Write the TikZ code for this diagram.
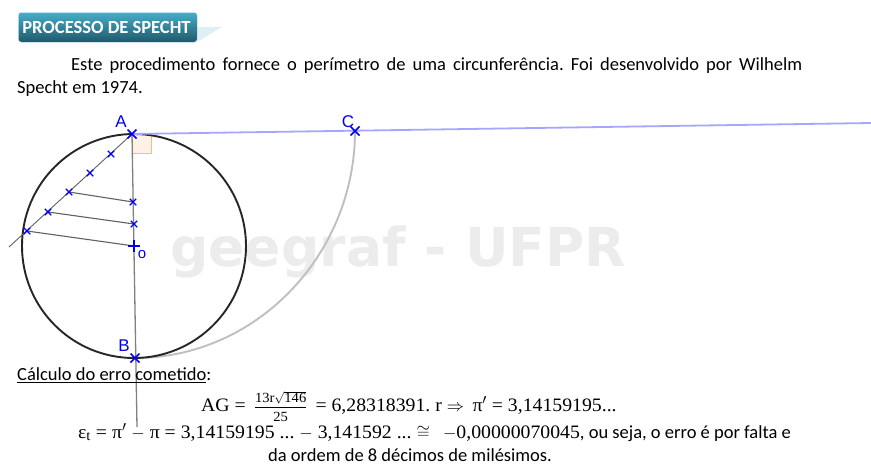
\documentclass[tikz,border=0pt]{standalone}
\usepackage{fontspec}
\usepackage{amsmath}
\setmainfont{Carlito}
\newfontfamily\mathserif[FakeStretch=1.04]{Liberation Serif}
\newfontfamily\markfont{Liberation Sans}
\newfontfamily\wmfont{DejaVu Sans}
\usetikzlibrary{shapes.misc,calc}
\definecolor{tickblue}{RGB}{0,0,240}
\definecolor{bannerlight}{RGB}{70,174,202}
\definecolor{bannerdark}{RGB}{32,88,106}
\definecolor{wisp}{RGB}{222,240,246}
\definecolor{watermark}{RGB}{236,236,236}
\definecolor{anglefill}{RGB}{255,241,228}
\definecolor{angledraw}{RGB}{250,190,120}
\tikzset{
  x=1pt,y=-1pt,
  tick/.style={cross out,draw=tickblue,line width=1.1pt,minimum size=6.5pt,inner sep=0pt,outer sep=0pt,rotate=#1},
  tick/.default=0,
  bigtick/.style={cross out,draw=tickblue,line width=1.6pt,minimum size=9pt,inner sep=0pt,outer sep=0pt,rotate=#1},
  bigtick/.default=0,
  pointlabel/.style={text=tickblue,font=\markfont\fontsize{17}{17}\selectfont,inner sep=0pt},
  segment/.style={draw=black!62,line width=1.1pt},
  axisline/.style={draw=black!50,line width=1.3pt},
  bodytext/.style={font=\fontsize{18.5}{23}\selectfont,inner sep=0pt,anchor=base west},
  mathline/.style={font=\fontsize{18.5}{23}\selectfont,inner sep=0pt,anchor=base west},
}
\newcommand{\mfnt}{\mathserif\fontsize{19}{24}\selectfont}
\newcommand{\sfnt}{\mathserif\fontsize{14}{15}\selectfont}
\frenchspacing
\begin{document}
\begin{tikzpicture}
\useasboundingbox (0,0) rectangle (871,474);
\fill[white] (0,0) rectangle (871,474);
% watermark
\node[font=\wmfont\bfseries\fontsize{53.6}{54}\selectfont,text=watermark,inner sep=0pt] (mark) at (398,252) {geegraf - UFPR};
% banner
\fill[wisp] (190,27) -- (222,27) -- (197,42) -- cycle;
\node[rounded corners=3pt,top color=bannerlight,bottom color=bannerdark,minimum width=179pt,minimum height=30pt,inner sep=0pt,anchor=north west,draw=white!85!bannerlight,line width=.5pt] (banner) at (18,12) {};
\node[font=\bfseries\fontsize{18.5}{18.5}\selectfont,text=white,inner sep=0pt] (bannertext) at (106.5,27) {PROCESSO DE SPECHT};
% paragraph
\node[bodytext,text width=785pt,align=justify,anchor=north west] (para) at (17,57) {\hspace*{54pt}Este procedimento fornece o perímetro de uma circunferência. Foi desenvolvido por Wilhelm\linebreak Specht em 1974.};
% geometry
\coordinate (A) at (132,134);
\coordinate (B) at (135,358);
\coordinate (C) at (355,131);
\coordinate (O) at (134,246);
\coordinate (R) at (871,123);
\coordinate (Bend) at (137,427);
\coordinate (Lend) at (9,247);
\coordinate (p1) at (111,154);
\coordinate (p2) at (90,173);
\coordinate (p3) at (69,192);
\coordinate (p4) at (48,212);
\coordinate (p5) at (27,231);
\coordinate (q3) at (133,202);
\coordinate (q4) at (134,224);
% right angle
\draw[draw=angledraw,fill=anglefill,line width=1pt] (A) rectangle (151,153);
% arc centred on A
\draw[draw=black!25,line width=1.9pt] (C) .. controls (355,254) and (257,358) .. (B);
% circle
\node[circle,draw=black!85,line width=1.9pt,minimum size=224pt,inner sep=0pt] (circ) at (O) {};
% lines
\draw[draw=blue!35!white,line width=1.8pt] (A) -- (R);
\draw[axisline] (A) -- (Bend);
\draw[segment,line width=.9pt] (A) -- (Lend);
\draw[segment] (p3) -- (q3);
\draw[segment] (p4) -- (q4);
\draw[segment] (p5) -- (O);
% marks
\node[bigtick] (mA) at (A) {};
\node[bigtick] (mB) at (B) {};
\node[bigtick] (mC) at (C) {};
\foreach \n in {p1,p2,p3,p4,p5,q3,q4} \node[tick] (m\n) at (\n) {};
\node[bigtick=45,minimum size=8pt,line width=1.1pt] (mO) at (O) {};
\node[pointlabel] (lA) at (121,122) {A};
\node[pointlabel] (lB) at (124,346) {B};
\node[pointlabel] (lC) at (348,122) {C};
\node[pointlabel,font=\markfont\fontsize{15}{15}\selectfont] (lO) at (142,255) {o};
% text
\node[bodytext] (calc) at (17,380) {\underline{Cálculo do erro cometido}:};
\node[mathline] (l1) at (201,411) {{\mfnt AG = }\,$\vcenter{\hbox{$\frac{\hbox{\rule[-3pt]{0pt}{3pt}\sfnt 13r}\sqrt{\hbox{\sfnt 146}}}{\hbox{\rule{0pt}{14pt}\sfnt 25}}$}}$\,{\mfnt\ = 6,28318391. r }$\Rightarrow$\ \ {\mfnt π$'$ = 3,14159195...}};
\node[mathline] (l2) at (78,438) {{\mfnt ε$_{\hbox{\sfnt t}}$ = π$'$ $-$ π = 3,14159195 ... $-$ 3,141592 ... $\cong$\ \ \,$-$0,00000070045}, ou seja, o erro é por falta e\hspace{0pt}};
\node[bodytext] (l3) at (268,461) {da ordem de 8 décimos de milésimos.};
\end{tikzpicture}
\end{document}
